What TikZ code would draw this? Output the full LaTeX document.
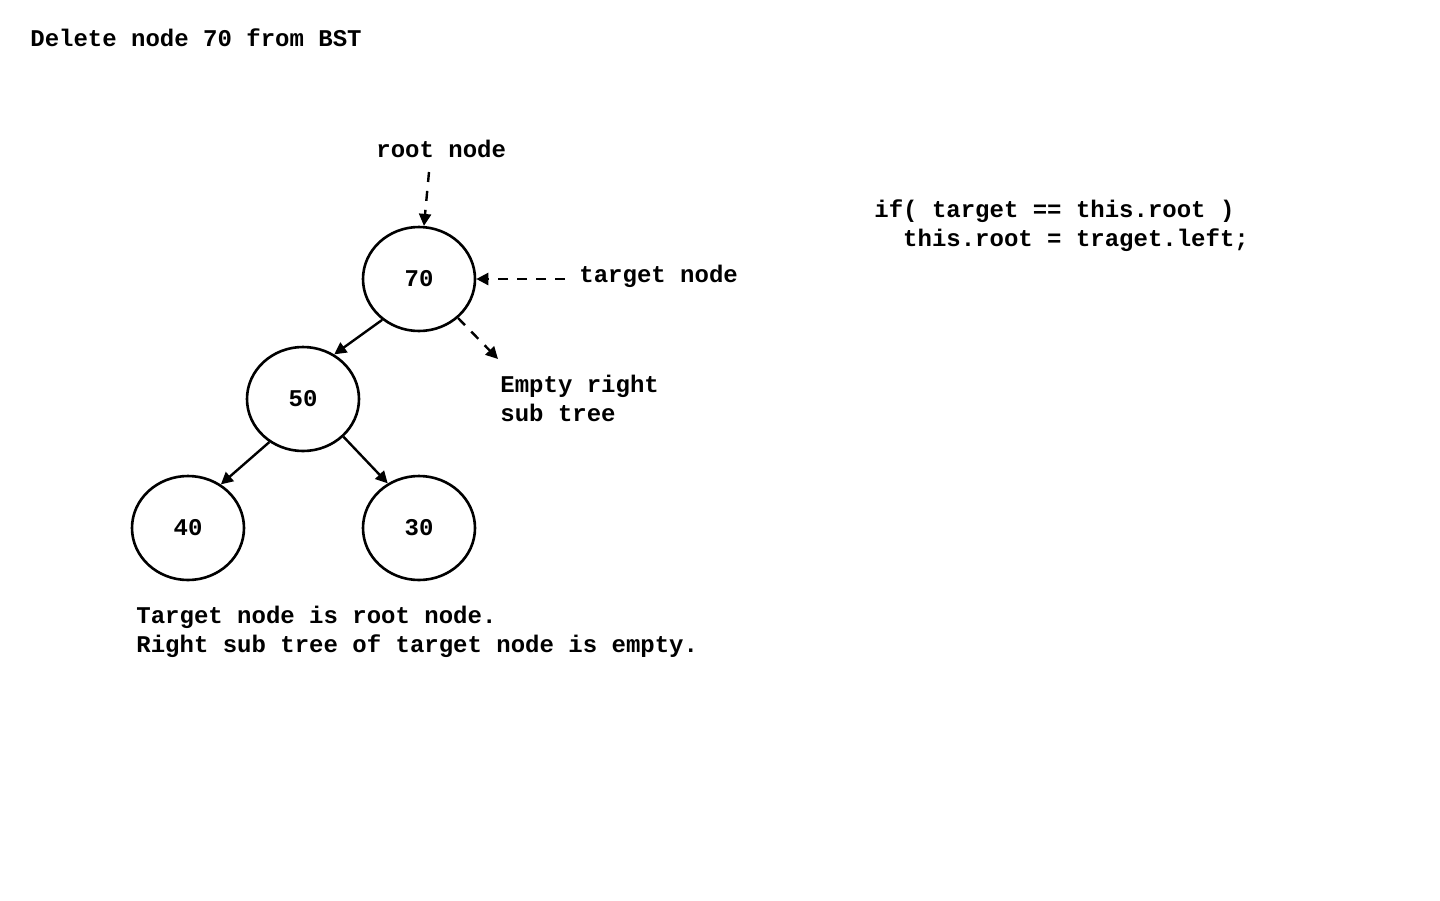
\documentclass[tikz,border=0pt]{standalone}
\usepackage{fontspec}
\setmainfont{Liberation Mono}
\usetikzlibrary{arrows.meta,shapes.geometric}
\begin{document}
\begin{tikzpicture}[x=0.5pt,y=-0.5pt,
	every node/.style={font=\fontsize{12}{14.5}\selectfont\bfseries},
	treenode/.style={draw, line width=1.3pt, ellipse, minimum width=56pt, minimum height=52pt, inner sep=0pt},
	label text/.style={anchor=base west, inner sep=0pt, align=left},
	edge arrow/.style={line width=1.2pt, -{Triangle[length=6pt,width=6pt]}},
	hint arrow/.style={edge arrow, dash pattern=on 5pt off 4.5pt}]
	\useasboundingbox (0,0) rectangle (1440,900);
	
	\node[label text] (title) at (30,46) {Delete node 70 from BST};
	
	\node[treenode] (n70) at (419,279) {70};
	\node[treenode] (n50) at (303,399) {50};
	\node[treenode] (n40) at (188,528) {40};
	\node[treenode] (n30) at (419,528) {30};
	
	\draw[edge arrow] (n70.-132) -- (n50.55);
	\draw[edge arrow] (n50.-128) -- (n40.53);
	\draw[edge arrow] (n50.-43) -- (n30.125);
	
	\node[label text] (rootlbl) at (376,157) {root node};
	\node[label text] (targetlbl) at (579,282) {target node};
	\node[label text] (emptylbl) at (500,421) {Empty right\\sub tree};
	
	\coordinate (rootstart) at (429,172);
	\coordinate (targetstart) at (565,279);
	\coordinate (emptyend) at (498,359);
	\draw[hint arrow] (rootstart) -- (n70);
	\draw[hint arrow] (targetstart) -- (n70);
	\draw[hint arrow] (n70.-45) -- (emptyend);
	
	\node[label text] (note) at (136,652) {Target node is root node.\\Right sub tree of target node is empty.};
	\node[label text] (code) at (874,246) {if( target == this.root )\\\ \ this.root = traget.left;};
	
\end{tikzpicture}
\end{document}
